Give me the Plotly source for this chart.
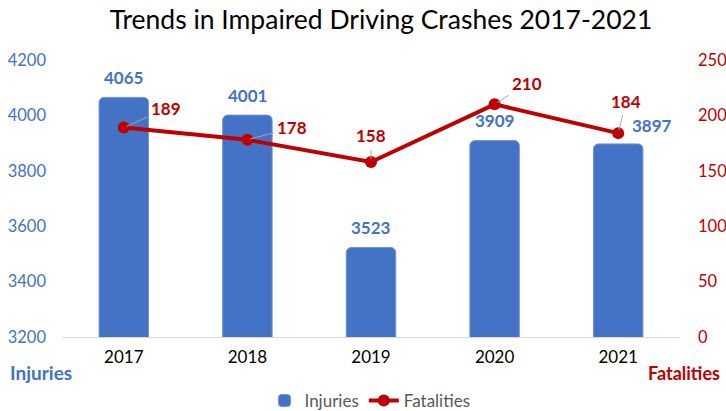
import plotly.graph_objects as go

years = ["2017", "2018", "2019", "2020", "2021"]
injuries = [4065, 4001, 3523, 3909, 3897]
fatalities = [189, 178, 158, 210, 184]

# label offsets (pixels) for data labels
inj_label_dx = [0, 0, 0, 0, 34]
inj_label_dy = [20, 20, 20, 20, 18]
fat_label_dx = [42, 45, 0, 32, 8]
fat_label_dy = [19, 12, 26, 21, 32]

BLUE = "#4472C4"
RED = "#C00000"
FONT = "Lato"

fig = go.Figure()
fig.add_trace(go.Bar(
    x=years, y=injuries, name="Injuries", width=0.4,
    marker=dict(color=BLUE, cornerradius=5, line=dict(color="#6F93D6", width=1)),
    yaxis="y",
))
fig.add_trace(go.Scatter(
    x=years, y=fatalities, name="Fatalities", mode="lines+markers",
    line=dict(color=RED, width=4), marker=dict(color=RED, size=12),
    yaxis="y2",
))

annotations = []
for i, v in enumerate(injuries):
    annotations.append(dict(
        x=i, y=v, xref="x", yref="y", text=f"<b>{v}</b>", showarrow=False,
        xshift=inj_label_dx[i], yshift=inj_label_dy[i], yanchor="middle",
        font=dict(family=FONT, size=17, color=BLUE),
    ))
for i, v in enumerate(fatalities):
    annotations.append(dict(
        x=i, y=v, xref="x", yref="y2", text=f"<b>{v}</b>", showarrow=True,
        ax=fat_label_dx[i], ay=-fat_label_dy[i], arrowhead=0, arrowwidth=1,
        arrowcolor="#A6A6A6", standoff=3, startstandoff=2,
        font=dict(family=FONT, size=17, color=RED),
    ))

L, R, T, B = 62, 46, 60, 74
W, H = 726, 411
pw, ph = W - L - R, H - T - B

annotations.append(dict(
    x=(8 - L) / pw, y=(H - B - 372) / ph, xref="paper", yref="paper",
    text="<b>Injuries</b>", showarrow=False,
    font=dict(family=FONT, size=19, color=BLUE), xanchor="left", yanchor="middle",
))
annotations.append(dict(
    x=(722 - L) / pw, y=(H - B - 373) / ph, xref="paper", yref="paper",
    text="<b>Fatalities</b>", showarrow=False,
    font=dict(family=FONT, size=18, color=RED), xanchor="right", yanchor="middle",
))

fig.update_layout(
    width=W, height=H,
    margin=dict(l=L, r=R, t=T, b=B, autoexpand=False),
    paper_bgcolor="white", plot_bgcolor="white",
    font=dict(family=FONT),
    title=dict(text="Trends in Impaired Driving Crashes 2017-2021", x=381 / W, xanchor="center",
               y=1 - 20 / H, yanchor="middle", font=dict(family=FONT, size=26.5, color="#000000")),
    xaxis=dict(type="category", range=[-0.5, len(years) - 0.5], showgrid=False,
               showline=True, linecolor="#D9D9D9", linewidth=1,
               tickfont=dict(family=FONT, size=17, color="#000000"), ticks="",
               ticklabelstandoff=5),
    yaxis=dict(range=[3200, 4200], dtick=200, showgrid=False, zeroline=False,
               tickfont=dict(family=FONT, size=16.5, color=BLUE), ticklabelstandoff=15),
    yaxis2=dict(range=[0, 250], dtick=50, overlaying="y", side="right", showgrid=False,
                zeroline=False, tickfont=dict(family=FONT, size=16.5, color=RED),
                ticklabelstandoff=17),
    legend=dict(orientation="h", x=(370 - L) / pw, xanchor="center", y=(H - B - 401) / ph,
                yanchor="middle", font=dict(family=FONT, size=17, color="#595959")),
    annotations=annotations,
    showlegend=True,
)

fig.write_html("out.html", config={"displayModeBar": False},
               post_script="document.body.style.margin='0';")
